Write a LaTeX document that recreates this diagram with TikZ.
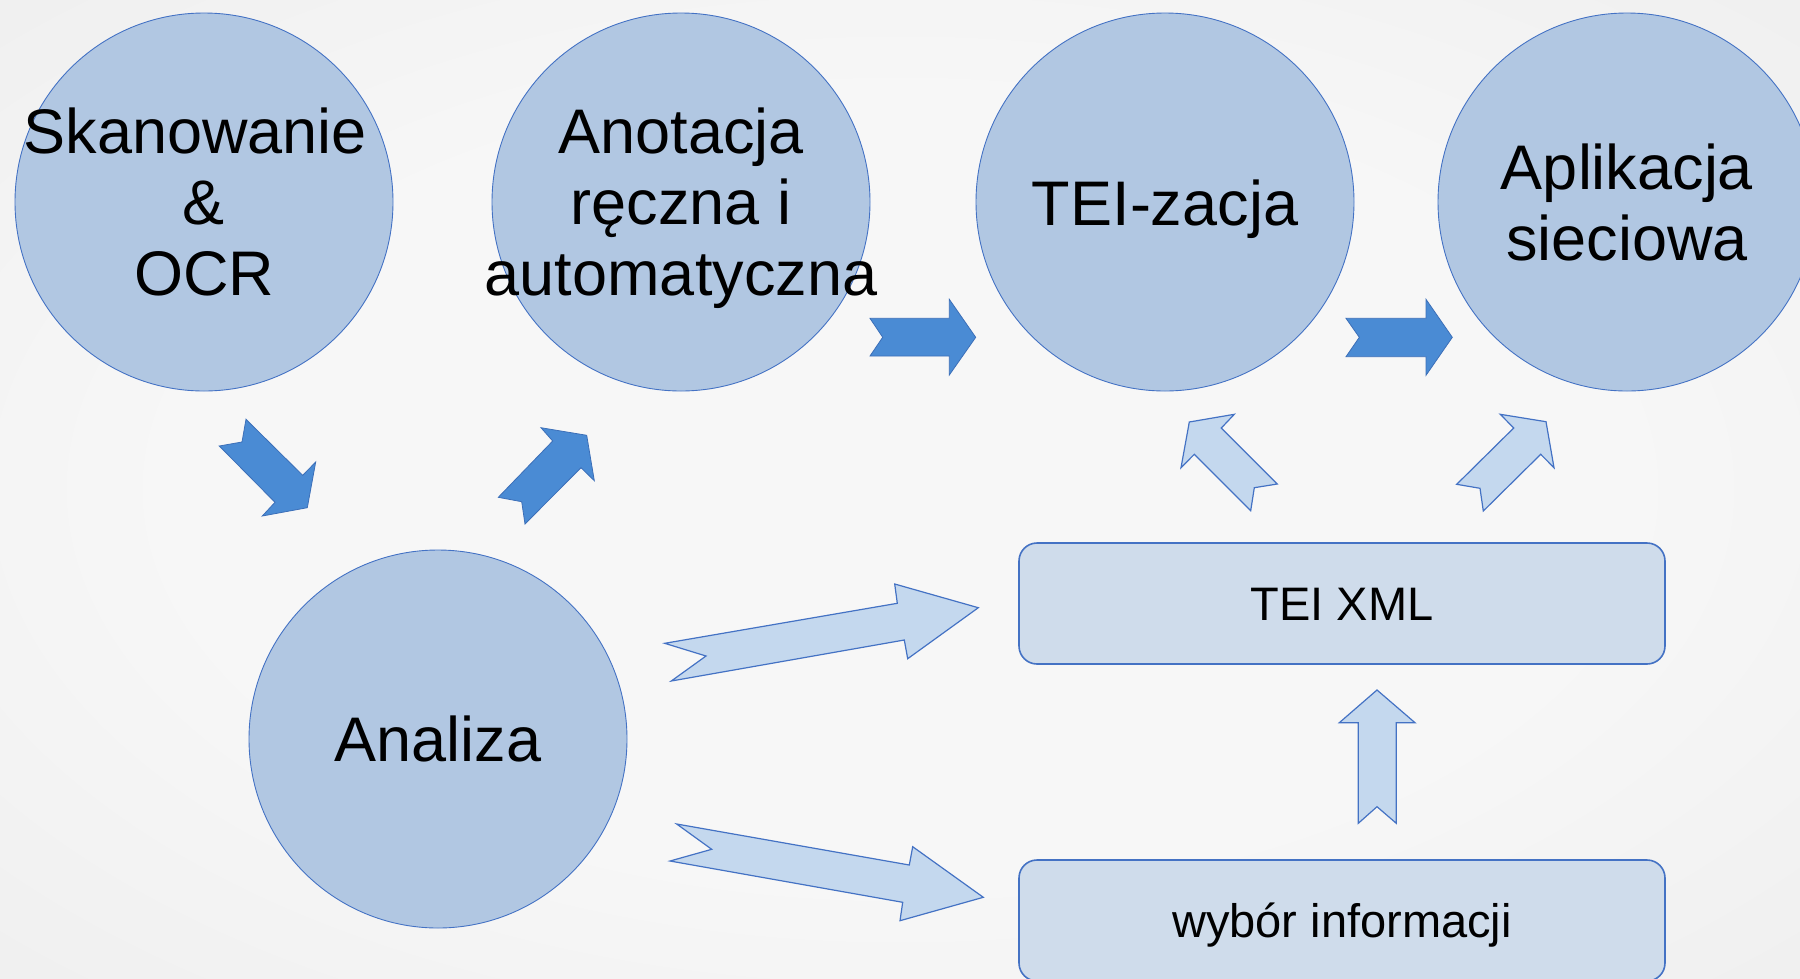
\documentclass[tikz,border=0pt]{standalone}
\usepackage{fontspec}
\setmainfont{Liberation Sans}

\definecolor{bgin}{HTML}{F7F7F7}
\definecolor{bgout}{HTML}{E4E4E4}
\definecolor{bubblefill}{HTML}{B1C7E2}
\definecolor{panelfill}{HTML}{CFDCEB}
\definecolor{lineblue}{HTML}{4472C4}
\definecolor{darkfill}{HTML}{4A8BD4}
\definecolor{darkline}{HTML}{3C6FB8}
\definecolor{lightfill}{HTML}{C4D8EE}

\pgfdeclareradialshading{bgglow}{\pgfpoint{0bp}{0bp}}{color(0bp)=(bgin); color(20bp)=(bgin); color(60bp)=(bgout)}

\tikzset{
  bubble/.style={circle,draw=lineblue,line width=0.9pt,fill=bubblefill,minimum size=378pt,inner sep=0pt},
  bubbletext/.style={align=center,font=\fontsize{63}{71}\selectfont,inner sep=0pt},
  panel/.style={rectangle,rounded corners=18pt,draw=lineblue,line width=1.6pt,fill=panelfill,
    minimum width=646pt,minimum height=121pt,inner sep=0pt,
    font=\fontsize{47}{54}\selectfont,text height=34pt,text depth=0pt},
  darkarrow/.style={fill=darkfill,draw=darkline,line width=0.8pt,line join=miter},
  lightarrow/.style={fill=lightfill,draw=lineblue,line width=1.2pt,line join=miter}
}

\begin{document}
\begin{tikzpicture}[x=1pt,y=-1pt]
  \useasboundingbox (0,0) rectangle (1800,978);
  \clip (0,0) rectangle (1800,978);
  \shade[shading=bgglow] (0,0) rectangle (1800,978);

  % circles
  \node[bubble] (skan) at (204,202) {};
  \node[bubble] (anot) at (681,202) {};
  \node[bubble] (tei) at (1165,202) {};
  \node[bubble] (apl) at (1627,202) {};
  \node[bubble] (anal) at (438,739) {};

  \node[bubbletext] at (skan) {Skanowanie\hspace*{17.5pt}\\\&\\OCR};
  \node[bubbletext,yshift=-6pt] at (anot) {Anotacja\\ręczna i\\automatyczna};
  \node[bubbletext,text height=46pt,text depth=0pt] at (tei) {TEI-zacja};
  \node[bubbletext] at (apl) {Aplikacja\\sieciowa};
  \node[bubbletext] at (anal) {Analiza};

  % boxes
  \node[panel] (teixml) at (1342,603.5) {TEI XML};
  \node[panel] (wybor) at (1342,920.5) {wybór informacji};

  % dark arrows
  \draw[darkarrow] (246,419.3) -- (242,442) -- (219.3,446) -- (275,502.3) -- (262.3,516)
    -- (307.3,507.7) -- (315.7,462) -- (302.7,475.3) -- cycle;
  \draw[darkarrow] (541,427.7) -- (586.7,435.3) -- (594.3,480.7) -- (581,467.7) -- (525,524)
    -- (521.7,501.7) -- (498.3,497.3) -- (552.7,441) -- cycle;
  \draw[darkarrow] (870,318.3) -- (882.7,337.3) -- (870,356) -- (949.3,356) -- (949.3,375)
    -- (975.7,337.3) -- (949.3,299.3) -- (949.3,318.3) -- cycle;
  \draw[darkarrow] (1346,318.3) -- (1359.3,337.3) -- (1346,356.7) -- (1426,356.7) -- (1426,375.3)
    -- (1452.3,337.3) -- (1426,299.3) -- (1426,318.3) -- cycle;

  % light arrows
  \draw[lightarrow] (664.7,643.3) -- (706,656) -- (671.3,681) -- (904.3,640) -- (907.7,658.7)
    -- (978.3,607.7) -- (894.7,584) -- (897.3,603.3) -- cycle;
  \draw[lightarrow] (676.7,824) -- (711.7,849.3) -- (670,861) -- (902.7,902.3) -- (900,920.7)
    -- (983.3,897.3) -- (912.7,846.7) -- (909.3,865) -- cycle;
  \draw[lightarrow] (1234.3,414.3) -- (1189.3,422) -- (1181,467.7) -- (1194.3,454.3) -- (1250.7,510.7)
    -- (1254.3,487.7) -- (1277.3,484) -- (1221.3,428) -- cycle;
  \draw[lightarrow] (1500.3,414.3) -- (1546,421.7) -- (1554,467.7) -- (1540.7,454.3) -- (1483.3,511)
    -- (1480,488.3) -- (1456.7,484.3) -- (1513.7,428) -- cycle;
  \draw[lightarrow] (1377,690) -- (1415,722.7) -- (1396.3,722.7) -- (1396.3,823.3) -- (1377,806.7)
    -- (1358.3,823.3) -- (1358.3,722.7) -- (1339.3,722.7) -- cycle;
\end{tikzpicture}
\end{document}
